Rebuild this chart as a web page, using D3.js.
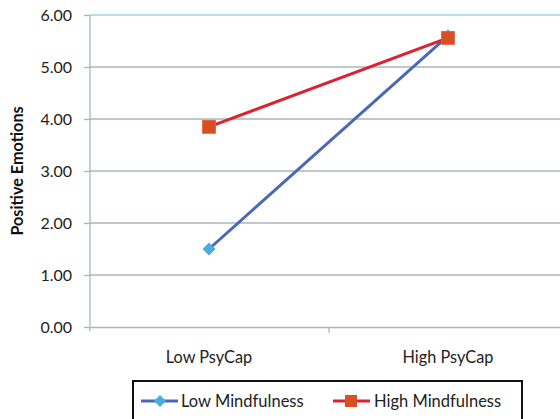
<!DOCTYPE html>
<html><head><meta charset="utf-8">
<script src="https://cdnjs.cloudflare.com/ajax/libs/d3/7.8.5/d3.min.js"></script>
<style>html,body{margin:0;padding:0;background:#fff;overflow:hidden}svg{display:block}</style>
</head><body>
<svg id="c" width="560" height="419"></svg>
<script>
const categories = ["Low PsyCap", "High PsyCap"];
const lowMindfulness = [1.50, 5.60];
const highMindfulness = [3.85, 5.56];
const yTicks = [0, 1, 2, 3, 4, 5, 6];
const seriesNames = ["Low Mindfulness", "High Mindfulness"];

const svg = d3.select("#c");
const font = "Lato, 'Open Sans', sans-serif";
const x = d3.scalePoint().domain(categories).range([209, 448]);
const xBand = d3.scaleBand().domain(categories).range([90, 568]);
const y = d3.scaleLinear().domain([0, 6]).range([327, 15]);

// gridlines
svg.append("g").selectAll("line").data(yTicks.filter(d => d > 0)).join("line")
  .attr("x1", 90).attr("x2", 560).attr("y1", d => y(d)).attr("y2", d => y(d))
  .attr("stroke", d => d === 6 ? "#9fd3ea" : "#a9b7b7").attr("stroke-width", 1.3);

// y axis
const ya = svg.append("g").attr("transform", "translate(90,0)")
  .call(d3.axisLeft(y).tickValues(yTicks).tickFormat(d3.format(".2f")).tickSize(6).tickPadding(12));
ya.select(".domain").attr("stroke", "#a9b7b7").attr("stroke-width", 1.3).attr("d", `M0,${y(6)}V${y(0)+4}`);
ya.selectAll(".tick line").attr("stroke", "#a9b7b7").attr("stroke-width", 1.3);
ya.selectAll("text").attr("font-family", font).attr("font-size", 16).attr("fill", "#222");

// x axis
const xa = svg.append("g").attr("transform", `translate(0,${y(0)})`)
  .call(d3.axisBottom(xBand).tickSize(0).tickFormat(""));
xa.select(".domain").attr("stroke", "#a9b7b7").attr("stroke-width", 1.3);
svg.append("line").attr("x1", 329).attr("x2", 329).attr("y1", y(0)).attr("y2", y(0)+6)
  .attr("stroke", "#a9b7b7").attr("stroke-width", 1.3);
svg.append("g").selectAll("text").data(categories).join("text")
  .attr("x", d => x(d)).attr("y", 363).attr("text-anchor", "middle")
  .attr("font-family", font).attr("font-size", 16.3).attr("fill", "#222").text(d => d);

// y title
svg.append("text").attr("transform", `translate(23,${y(3)}) rotate(-90)`)
  .attr("text-anchor", "middle").attr("font-family", font).attr("font-weight", "bold")
  .attr("font-size", 16.2).attr("fill", "#111").text("Positive Emotions");

const line = d3.line().x((d, i) => x(categories[i])).y(d => y(d));
svg.append("path").datum(lowMindfulness).attr("d", line).attr("fill", "none")
  .attr("stroke", "#4a68b4").attr("stroke-width", 3);
svg.append("path").datum(highMindfulness).attr("d", line).attr("fill", "none")
  .attr("stroke", "#dc2230").attr("stroke-width", 3);

const diamond = (cx, cy, r) => `M${cx},${cy-r}L${cx+r},${cy}L${cx},${cy+r}L${cx-r},${cy}Z`;
svg.append("g").selectAll("path").data(lowMindfulness).join("path")
  .attr("d", (d, i) => diamond(x(categories[i]), y(d), 6.5)).attr("fill", "#4badde");
svg.append("g").selectAll("rect").data(highMindfulness).join("rect")
  .attr("x", (d, i) => x(categories[i]) - 6.5).attr("y", d => y(d) - 6.5)
  .attr("width", 13).attr("height", 13).attr("fill", "#d94e22").attr("stroke", "#e0603a").attr("stroke-width", 0.8);

// legend
svg.append("rect").attr("x", 133).attr("y", 381).attr("width", 389).attr("height", 40)
  .attr("fill", "#fff").attr("stroke", "#111").attr("stroke-width", 2);
const ly = 401;
svg.append("line").attr("x1", 141).attr("x2", 178).attr("y1", ly).attr("y2", ly).attr("stroke", "#4a68b4").attr("stroke-width", 3);
svg.append("path").attr("d", diamond(160, ly, 6)).attr("fill", "#4badde");
svg.append("line").attr("x1", 333).attr("x2", 370).attr("y1", ly).attr("y2", ly).attr("stroke", "#dc2230").attr("stroke-width", 3);
svg.append("rect").attr("x", 345).attr("y", ly - 6).attr("width", 12).attr("height", 12).attr("fill", "#d94e22");
svg.append("g").selectAll("text").data(seriesNames).join("text")
  .attr("x", (d, i) => i === 0 ? 181 : 374).attr("y", 406.5)
  .attr("font-family", font).attr("font-size", 16.5).attr("fill", "#222").text(d => d);
</script>
</body></html>
